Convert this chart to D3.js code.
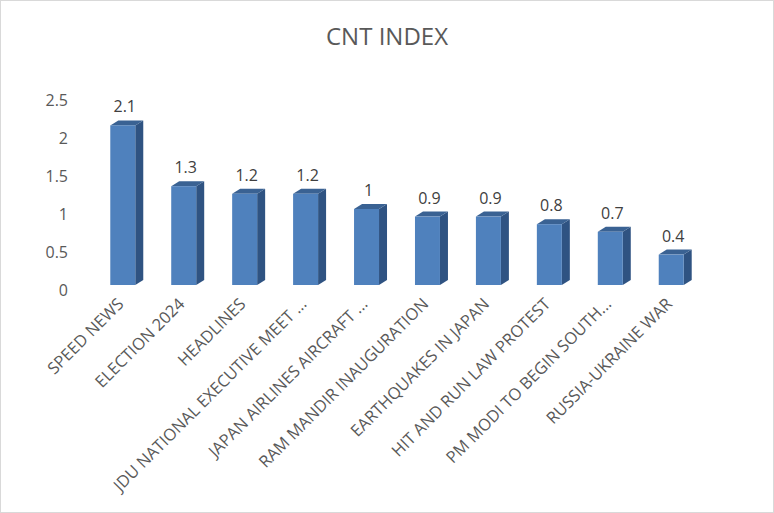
<!DOCTYPE html>
<html><head><meta charset="utf-8">
<script src="https://cdn.jsdelivr.net/npm/d3@7"></script>
<style>body{margin:0;background:#fff}svg{display:block}</style>
</head><body>
<script>
const categories = ["SPEED NEWS","ELECTION 2024","HEADLINES","JDU NATIONAL EXECUTIVE MEET ...","JAPAN AIRLINES AIRCRAFT ...","RAM MANDIR INAUGURATION","EARTHQUAKES IN JAPAN","HIT AND RUN LAW PROTEST","PM MODI TO BEGIN SOUTH...","RUSSIA-UKRAINE WAR"];
const values = [2.1,1.3,1.2,1.2,1,0.9,0.9,0.8,0.7,0.4];
const yTicks = [0,0.5,1,1.5,2,2.5];
const title = "CNT INDEX";

const W=774,H=513;
const svg=d3.select("body").append("svg").attr("width",W).attr("height",H);
svg.append("rect").attr("x",0.5).attr("y",0.5).attr("width",W-1).attr("height",H-1).attr("fill","#fff").attr("stroke","#d9d9d9");
const font="Open Sans, Liberation Sans, sans-serif";
svg.append("text").attr("x",387).attr("y",45).attr("text-anchor","middle").attr("font-family",font).attr("font-size",24).attr("fill","#595959").text(title);

const x=d3.scaleBand().domain(categories).range([92,702]).paddingInner(0.59).paddingOuter(0.3);
const y=d3.scaleLinear().domain([0,2.5]).range([285,95]);
const dx=8,dy=5;

svg.append("g").selectAll("text").data(yTicks).join("text")
  .attr("x",68).attr("y",d=>y(d)+5+6).attr("text-anchor","end")
  .attr("font-family",font).attr("font-size",16).attr("fill","#595959").text(d=>d);

const g=svg.append("g");
const bars=g.selectAll("g").data(values).join("g");
bars.append("path").attr("fill","#2f5382").attr("d",(d,i)=>{const x0=x(categories[i]),w=x.bandwidth(),t=y(d),b=y(0);
  return `M${x0+w},${t}L${x0+w+dx},${t-dy}L${x0+w+dx},${b-dy}L${x0+w},${b}Z`;});
bars.append("path").attr("fill","#3a6293").attr("d",(d,i)=>{const x0=x(categories[i]),w=x.bandwidth(),t=y(d);
  return `M${x0},${t}L${x0+dx},${t-dy}L${x0+w+dx},${t-dy}L${x0+w},${t}Z`;});
bars.append("rect").attr("fill","#4f81bd").attr("x",(d,i)=>x(categories[i])).attr("y",d=>y(d)).attr("width",x.bandwidth()).attr("height",d=>y(0)-y(d));
bars.append("text").attr("x",(d,i)=>x(categories[i])+x.bandwidth()/2+2).attr("y",d=>y(d)-13)
  .attr("text-anchor","middle").attr("font-family",font).attr("font-size",16).attr("fill","#404040").text(d=>d);

svg.append("g").selectAll("text").data(categories).join("text")
  .attr("transform",d=>`translate(${x(d)+x.bandwidth()/2+2},${305}) rotate(-45)`)
  .attr("text-anchor","end").attr("font-family",font).attr("font-size",16.5).attr("fill","#595959").text(d=>d);
</script>
</body></html>
